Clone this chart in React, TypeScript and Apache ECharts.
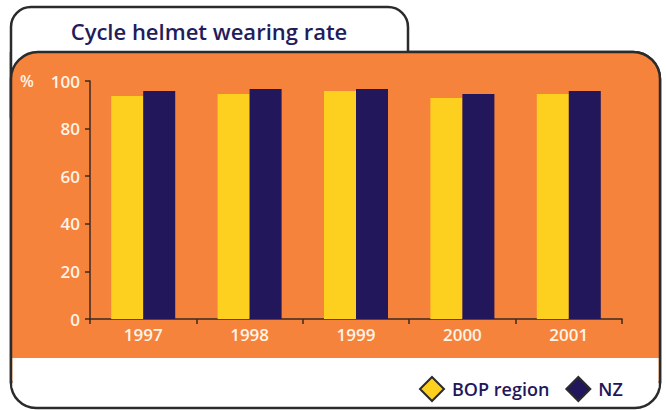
import React, { useEffect, useRef } from "react";
import * as echarts from "echarts";

const years = ["1997", "1998", "1999", "2000", "2001"];
const bopRegion = [93.7, 94.5, 95.8, 92.9, 94.5];
const nz = [95.8, 96.6, 96.6, 94.5, 95.8];
const yTicks = { min: 0, max: 100, interval: 20 };

const ORANGE = "#f5833b";
const YELLOW = "#fdcf1f";
const NAVY = "#22175a";
const BORDER = "#2b2b2b";
const LABEL = "#fff4e6";
const FONT = "'Open Sans', sans-serif";

export default function App() {
  const ref = useRef<HTMLDivElement>(null);
  useEffect(() => {
    document.body.style.margin = "0";
    if (!ref.current) return;
    const chart = echarts.init(ref.current, null, { renderer: "svg" });
    chart.setOption({
      animation: false,
      backgroundColor: "#ffffff",
      graphic: [
        {
          type: "rect",
          z: -10,
          shape: { x: 11, y: 52, width: 649, height: 356, r: [0, 27, 25, 25] },
          style: { fill: "#ffffff", stroke: BORDER, lineWidth: 2.5 },
        },
        {
          type: "rect",
          z: -9,
          shape: { x: 11, y: 7, width: 397, height: 110, r: [20, 20, 0, 0] },
          style: { fill: "#ffffff", stroke: BORDER, lineWidth: 2.5 },
        },
        {
          type: "rect",
          z: -8,
          shape: { x: 11, y: 52, width: 649, height: 330, r: [27, 27, 0, 0] },
          style: { fill: ORANGE, stroke: BORDER, lineWidth: 2.5 },
        },
        {
          type: "rect",
          z: -7,
          shape: { x: 12.5, y: 358, width: 646, height: 30 },
          style: { fill: "#ffffff" },
        },
        {
          type: "text",
          x: 209,
          y: 31,
          style: {
            text: "Cycle helmet wearing rate",
            fill: "#231c5c",
            font: `600 22px ${FONT}`,
            align: "center",
            verticalAlign: "middle",
          },
        },
        {
          type: "text",
          x: 20,
          y: 81,
          style: {
            text: "%",
            fill: LABEL,
            font: `600 16px ${FONT}`,
            align: "left",
            verticalAlign: "middle",
          },
        },
      ],
      legend: {
        left: 414,
        top: 371,
        itemWidth: 24,
        itemHeight: 24,
        itemGap: 16,
        icon: "diamond",
        itemStyle: { borderColor: BORDER, borderWidth: 2 },
        textStyle: { fontSize: 18, color: NAVY, fontFamily: FONT, fontWeight: 600, padding: [0, 0, 0, 3] },
        data: ["BOP region", "NZ"],
      },
      grid: { left: 90, top: 81, width: 532, height: 238, containLabel: false },
      xAxis: {
        type: "category",
        data: years,
        axisLine: { show: true, lineStyle: { color: "#3a2a22", width: 1.5 } },
        axisTick: { show: true, length: 5, alignWithLabel: false, lineStyle: { color: "#3a2a22", width: 1.5 } },
        axisLabel: { color: LABEL, fontSize: 17, fontWeight: 600, fontFamily: FONT, margin: 7 },
      },
      yAxis: {
        type: "value",
        min: yTicks.min,
        max: yTicks.max,
        interval: yTicks.interval,
        splitLine: { show: false },
        axisLine: { show: true, lineStyle: { color: "#3a2a22", width: 1.5 } },
        axisTick: { show: true, length: 5, lineStyle: { color: "#3a2a22", width: 1.5 } },
        axisLabel: { color: LABEL, fontSize: 17, fontWeight: 600, fontFamily: FONT, margin: 10 },
      },
      series: [
        {
          name: "BOP region",
          type: "bar",
          data: bopRegion,
          barWidth: 32,
          barGap: "0%",
          itemStyle: { color: YELLOW },
        },
        {
          name: "NZ",
          type: "bar",
          data: nz,
          barWidth: 32,
          barGap: "0%",
          itemStyle: { color: NAVY },
        },
      ],
    });
    return () => chart.dispose();
  }, []);
  return <div ref={ref} style={{ width: 666, height: 410 }} />;
}
